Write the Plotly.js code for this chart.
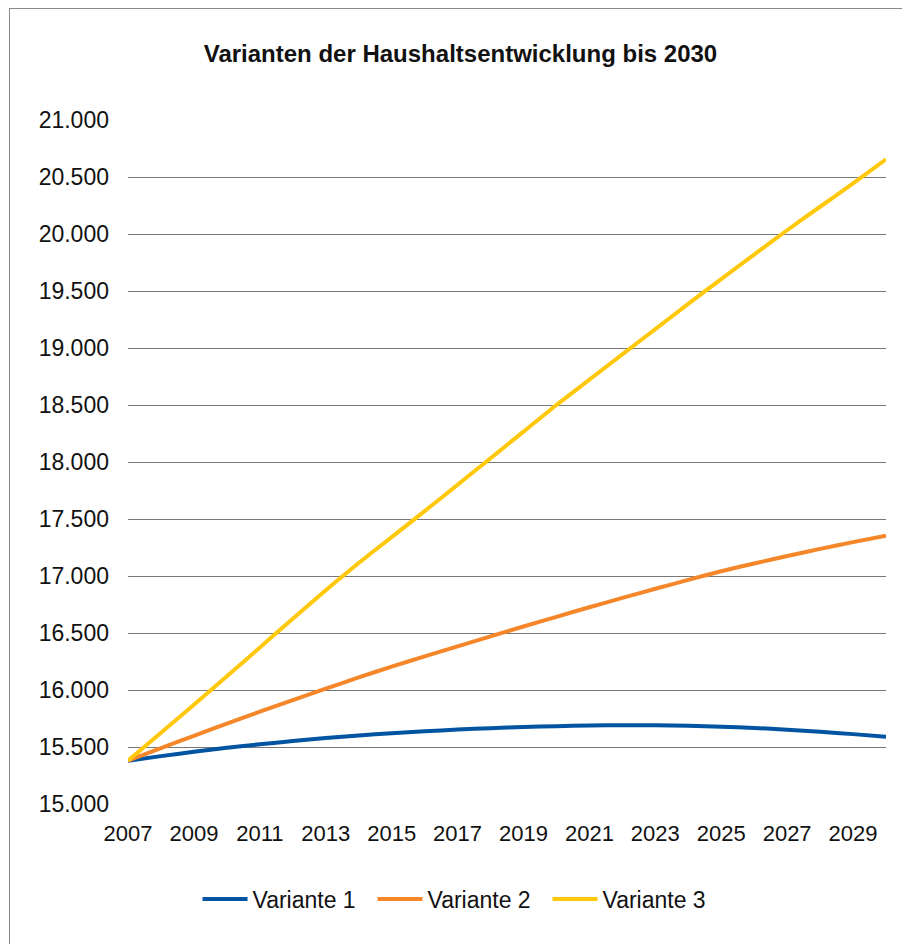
<!DOCTYPE html>
<html>
<head>
<meta charset="utf-8">
<script src="https://cdn.plot.ly/plotly-3.0.1.min.js"></script>
<style>
  html, body { margin: 0; padding: 0; background: #fff; overflow: hidden; }
  #frame { position: absolute; left: 9px; top: 8px; width: 1000px; height: 1000px; border: 1.5px solid #8a8a8a; }
  #chart { position: absolute; left: 0; top: 0; width: 902px; height: 944px; }
</style>
</head>
<body>
<div id="frame"></div>
<div id="chart"></div>
<script>
// Haushalte (in 1.000), 2007-2030
const years = [2007, 2008, 2009, 2010, 2011, 2012, 2013, 2014, 2015, 2016, 2017, 2018,
               2019, 2020, 2021, 2022, 2023, 2024, 2025, 2026, 2027, 2028, 2029, 2030];

const variante1 = [15380, 15420, 15458, 15493, 15524, 15552, 15578, 15601, 15621, 15638, 15653, 15665,
                   15675, 15683, 15688, 15691, 15690, 15686, 15678, 15667, 15652, 15634, 15613, 15590];

const variante2 = [15380, 15490, 15598, 15705, 15810, 15912, 16012, 16110, 16205, 16295, 16383, 16470,
                   16557, 16642, 16726, 16808, 16888, 16966, 17042, 17110, 17175, 17238, 17297, 17354];

const variante3 = [15380, 15625, 15870, 16120, 16373, 16625, 16875, 17114, 17341, 17569, 17800, 18033,
                   18266, 18500, 18722, 18944, 19166, 19387, 19605, 19820, 20033, 20239, 20444, 20655];

const seriesNames = ['Variante 1', 'Variante 2', 'Variante 3'];
const yTicks = [15000, 15500, 16000, 16500, 17000, 17500, 18000, 18500, 19000, 19500, 20000, 20500, 21000];
const xTicks = [2007, 2009, 2011, 2013, 2015, 2017, 2019, 2021, 2023, 2025, 2027, 2029];

const COLORS = ['#0054a2', '#f5872a', '#ffc80a'];
const FONT = 'Helvetica, "Liberation Sans", Arial, sans-serif';

const traces = [variante1, variante2, variante3].map((ys, i) => ({
  x: years, y: ys,
  type: 'scatter', mode: 'lines',
  name: seriesNames[i],
  line: { color: COLORS[i], width: 4, shape: 'spline', smoothing: 0.6 },
  hoverinfo: 'x+y+name',
}));

const layout = {
  width: 902, height: 944,
  margin: { l: 128, r: 16, t: 120, b: 140 },
  paper_bgcolor: 'rgba(0,0,0,0)',
  plot_bgcolor: 'rgba(0,0,0,0)',
  separators: ',.',
  font: { family: FONT, color: '#111', size: 23 },
  title: {
    text: '<b>Varianten der Haushaltsentwicklung bis 2030</b>',
    font: { family: FONT, size: 24, color: '#111' },
    xref: 'container', x: 0.5105, xanchor: 'center',
    yref: 'container', y: 0.943, yanchor: 'middle',
  },
  xaxis: {
    range: [2007, 2030],
    tickmode: 'array', tickvals: xTicks, ticktext: xTicks.map(String),
    showgrid: false, zeroline: false, showline: false, ticks: '',
    ticklabelstandoff: 14,
    tickfont: { family: FONT, size: 22, color: '#111' },
    fixedrange: true,
  },
  yaxis: {
    range: [15000, 21000],
    tickmode: 'array', tickvals: yTicks, tickformat: ',d',
    showgrid: true, gridcolor: '#777', gridwidth: 1.4,
    zeroline: false, showline: false, ticks: '',
    ticklabelstandoff: 18,
    tickfont: { family: FONT, size: 23, color: '#111' },
    fixedrange: true,
  },
  showlegend: true,
  legend: {
    orientation: 'h',
    xref: 'container', x: 0.51, xanchor: 'center',
    yref: 'container', y: 0.0477, yanchor: 'middle',
    font: { family: FONT, size: 23, color: '#111' },
    itemwidth: 45,
    entrywidth: 115, entrywidthmode: 'pixels',
    bgcolor: 'rgba(0,0,0,0)',
  },
};

Plotly.newPlot('chart', traces, layout, { displayModeBar: false, responsive: false });
</script>
</body>
</html>
